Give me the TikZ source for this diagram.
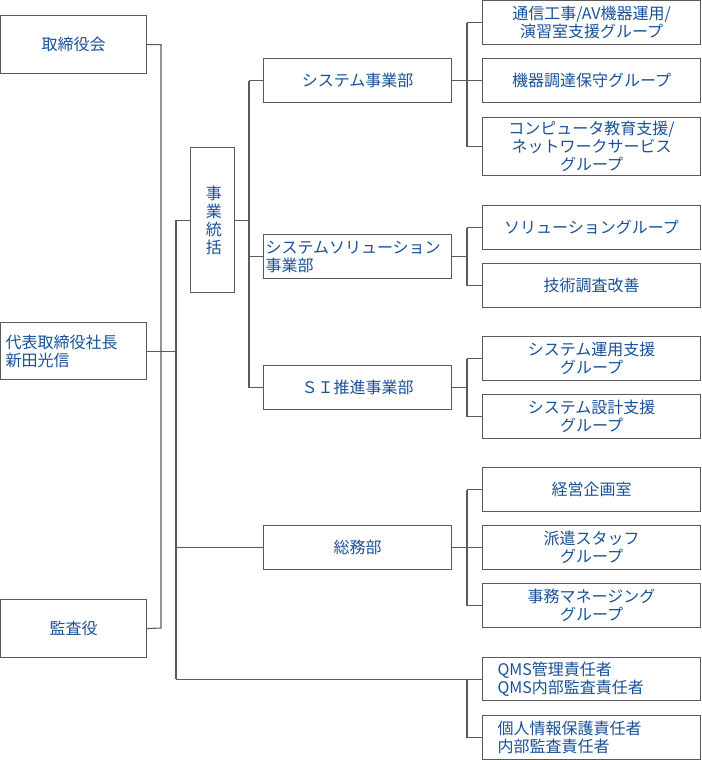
\documentclass[tikz,border=0pt]{standalone}
\usepackage{fontspec}
\setmainfont{Noto Sans CJK JP}
\usetikzlibrary{positioning}
\definecolor{orgblue}{RGB}{25,80,150}
\definecolor{orgline}{RGB}{90,90,90}
\begin{document}
\begin{tikzpicture}[x=0.75pt,y=-0.75pt,font=\fontsize{12}{13.5}\selectfont]

  % Styles
  \tikzset{
    box/.style={draw=orgline, line width=0.8pt, text=orgblue, anchor=north west,
      inner sep=2pt, align=center},
    lbox/.style={box, align=left, inner xsep=#1*0.75pt},
    link/.style={draw=orgline, line width=0.8pt}
  }

  \useasboundingbox (0,0) rectangle (701,760);

  %% Left column
  \node[box, minimum width=146*0.75pt, minimum height=58*0.75pt] (board) at (0,15) {取締役会};
  \node[lbox=5, text width=136*0.75pt, minimum height=57*0.75pt] (ceo) at (0,322) {代表取締役社長\\新田光信};
  \node[box, minimum width=146*0.75pt, minimum height=58*0.75pt] (audit) at (0,599) {監査役};

  %% Business control
  \node[box, minimum width=44*0.75pt, minimum height=145*0.75pt, text width=1em] (ctrl) at (190,147) {事\\業\\統\\括};

  %% Departments
  \foreach \n/\y/\t in {sys/58/システム事業部, si/365/ＳＩ推進事業部, gen/525/総務部}
    \node[box, minimum width=188*0.75pt, minimum height=44*0.75pt] (\n) at (263,\y) {\t};
  \node[lbox=2, text width=184*0.75pt, minimum height=44*0.75pt] (sol) at (263,234) {システムソリューション\\事業部};

  %% Groups
  \foreach \n/\y/\h/\t in {
      g1/0/44/{通信工事/AV機器運用/\\演習室支援グループ},
      g2/58/44/機器調達保守グループ,
      g3/117/58/{コンピュータ教育支援/\\ネットワークサービス\\グループ},
      g4/205/44/ソリューショングループ,
      g5/263/44/技術調査改善,
      g6/336/44/{システム運用支援\\グループ},
      g7/394/44/{システム設計支援\\グループ},
      g8/467/44/経営企画室,
      g9/525/44/{派遣スタッフ\\グループ},
      g10/583/44/{事務マネージング\\グループ}}
    \node[box, minimum width=218*0.75pt, minimum height=\h*0.75pt, inner sep=0pt] (\n) at (482,\y) {\t};
  \node[lbox=15, text width=188*0.75pt, minimum height=43*0.75pt, inner ysep=0pt] (g11) at (482,657) {QMS管理責任者\\QMS内部監査責任者};
  \node[lbox=15, text width=188*0.75pt, minimum height=44*0.75pt, inner ysep=0pt] (g12) at (482,715) {個人情報保護責任者\\内部監査責任者};

  %% Connectors
  \draw[link] (board.east) -| (161,628) -- (audit.east);
  \draw[link] (ceo.east) -- (176,0 |- ceo.east);
  \draw[link] (176,0 |- ctrl.west) -- (176,0 |- g11.west);
  \draw[link] (176,0 |- ctrl.west) -- (ctrl.west);
  \draw[link] (176,0 |- gen.west) -- (gen.west);
  \draw[link] (176,0 |- g11.west) -- (g11.west);
  \draw[link] (467,0 |- g11.west) |- (g12.west);

  \draw[link] (ctrl.east) -- (249,0 |- ctrl.east);
  \draw[link] (249,0 |- sys.west) -- (249,0 |- si.west);
  \foreach \n in {sys,sol,si}
    \draw[link] (249,0 |- \n.west) -- (\n.west);

  \foreach \d/\a/\b/\list in {sys/g1/g3/{g1,g2,g3}, sol/g4/g5/{g4,g5}, si/g6/g7/{g6,g7}, gen/g8/g10/{g8,g9,g10}} {
    \draw[link] (\d.east) -- (467,0 |- \d.east);
    \draw[link] (467,0 |- \a.west) -- (467,0 |- \b.west);
    \foreach \n in \list \draw[link] (467,0 |- \n.west) -- (\n.west);
  }

\end{tikzpicture}
\end{document}
